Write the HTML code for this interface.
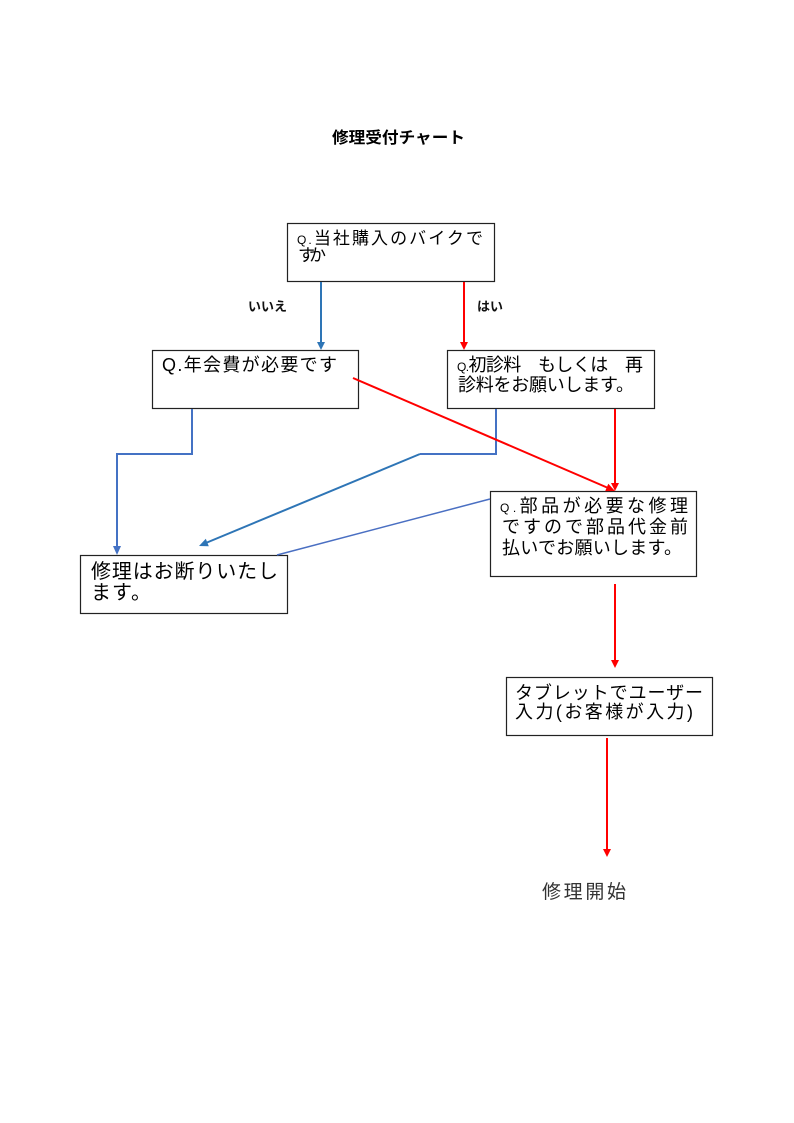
<!DOCTYPE html>
<html>
<head>
<meta charset="utf-8">
<style>
  html, body { margin:0; padding:0; background:#fff; }
  body { width:794px; height:1123px; overflow:hidden; }
  svg { display:block; }
  text { font-family: "Liberation Sans", "Noto Sans CJK JP", sans-serif; }
</style>
</head>
<body>
<svg width="794" height="1123" viewBox="0 0 794 1123" xmlns="http://www.w3.org/2000/svg">
  <rect x="0" y="0" width="794" height="1123" fill="#fff"/>

  <!-- Title -->
  <text x="332" y="143" font-size="16" font-weight="bold" fill="#000" textLength="133" lengthAdjust="spacingAndGlyphs">修理受付チャート</text>

  <!-- Boxes -->
  <g fill="#fff" stroke="#222" stroke-width="1.2">
    <rect x="287.5" y="223.5" width="207" height="58"/>
    <rect x="152.5" y="350.5" width="206" height="58"/>
    <rect x="447.5" y="350.5" width="207" height="58"/>
    <rect x="490.5" y="491.5" width="206" height="85"/>
    <rect x="80.5" y="555.5" width="207" height="58"/>
    <rect x="506.5" y="677.5" width="206" height="58"/>
  </g>

  <!-- Connectors -->
  <line x1="321" y1="282" x2="321" y2="343" stroke="#2E75B6" stroke-width="2"/>
  <polygon points="321,350 317,342 325,342" fill="#2E75B6"/>
  <line x1="464" y1="282" x2="464" y2="343" stroke="#FF0000" stroke-width="2"/>
  <polygon points="464,350 460,342 468,342" fill="#FF0000"/>

  <polyline points="192,409 192,454 117,454 117,547" fill="none" stroke="#4472C4" stroke-width="2"/>
  <polygon points="117,555 113,546 121,546" fill="#4472C4"/>

  <polyline points="496,409 496,454 420,454" fill="none" stroke="#4472C4" stroke-width="2"/>
  <line x1="420" y1="454" x2="207" y2="542.5" stroke="#2E75B6" stroke-width="2"/>
  <polygon points="199,546 208.8,546.2 205.8,538.8" fill="#2E75B6"/>

  <line x1="353" y1="378" x2="607" y2="487.5" stroke="#FF0000" stroke-width="2"/>
  <polygon points="615,491 605.2,491.1 608.3,483.8" fill="#FF0000"/>

  <line x1="615" y1="409" x2="615" y2="484" stroke="#FF0000" stroke-width="2"/>
  <polygon points="615,491 611,483 619,483" fill="#FF0000"/>

  <line x1="490" y1="499" x2="277" y2="555" stroke="#4A6FC2" stroke-width="1.5"/>

  <line x1="615" y1="584" x2="615" y2="661" stroke="#FF0000" stroke-width="2"/>
  <polygon points="615,668 611,660 619,660" fill="#FF0000"/>

  <line x1="607" y1="738" x2="607" y2="850" stroke="#FF0000" stroke-width="2"/>
  <polygon points="607,857 603,849 611,849" fill="#FF0000"/>

  <!-- Labels -->
  <text x="248" y="311" font-size="13" font-weight="bold" fill="#111" textLength="39" lengthAdjust="spacingAndGlyphs">いいえ</text>
  <text x="477" y="311" font-size="13" font-weight="bold" fill="#111" textLength="26" lengthAdjust="spacingAndGlyphs">はい</text>

  <!-- Box texts -->
  <g font-size="17" fill="#000">
    <text x="297" y="244" textLength="186" lengthAdjust="spacing"><tspan font-size="12">Q.</tspan>当社購入のバイクで</text>
    <text x="298" y="261" textLength="28" lengthAdjust="spacing">すか</text>
  </g>
  <g font-size="18" fill="#000">
    <text x="162" y="371" textLength="175" lengthAdjust="spacing">Q.年会費が必要です</text>

    <text x="457" y="371" textLength="186" lengthAdjust="spacing"><tspan font-size="12">Q.</tspan>初診料　もしくは　再</text>
    <text x="458" y="391" textLength="176" lengthAdjust="spacing">診料をお願いします。</text>

    <text x="500" y="512" textLength="188" lengthAdjust="spacing"><tspan font-size="12">Q.</tspan>部品が必要な修理</text>
    <text x="502" y="533" textLength="186" lengthAdjust="spacing">ですので部品代金前</text>
    <text x="502" y="554" textLength="180" lengthAdjust="spacing">払いでお願いします。</text>

    <text x="515" y="699" textLength="188" lengthAdjust="spacing">タブレットでユーザー</text>
    <text x="515" y="718" textLength="178" lengthAdjust="spacing">入力(お客様が入力)</text>
  </g>
  <g font-size="20" fill="#000">
    <text x="91" y="578" textLength="187" lengthAdjust="spacing">修理はお断りいたし</text>
    <text x="91" y="599" textLength="60" lengthAdjust="spacing">ます。</text>
  </g>

  <text x="542" y="898" font-size="19" fill="#333" textLength="84" lengthAdjust="spacing">修理開始</text>
</svg>
</body>
</html>
